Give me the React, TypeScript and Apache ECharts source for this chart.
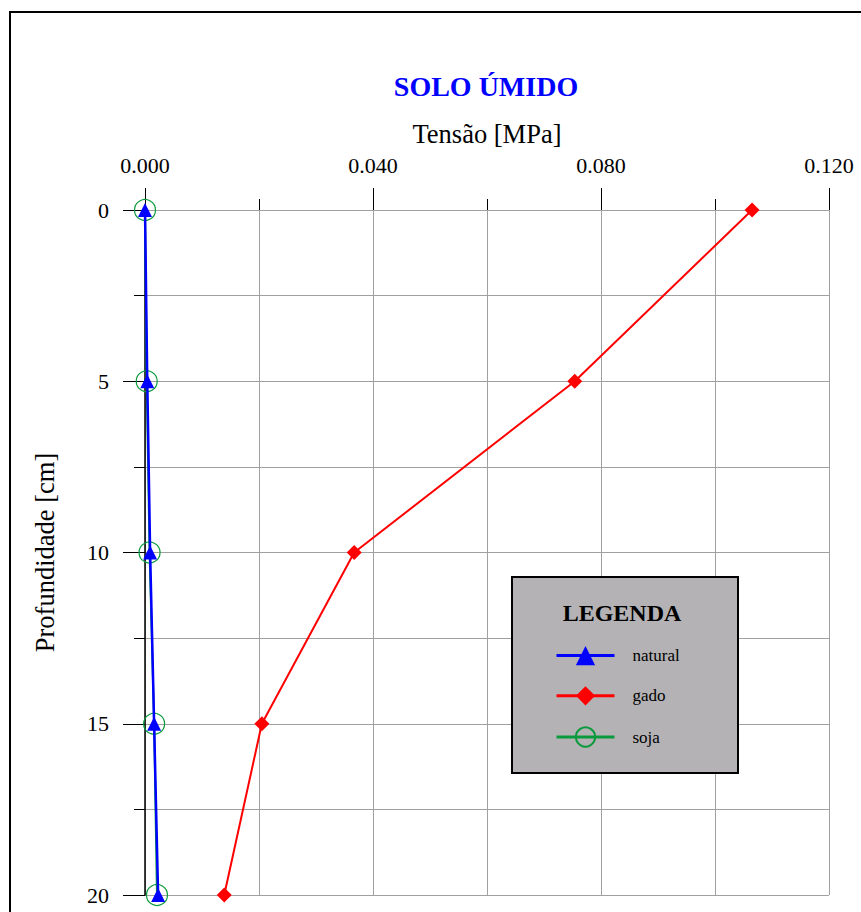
import React, { useEffect, useRef } from "react";
import * as echarts from "echarts";

const depths = [0, 5, 10, 15, 20];
const natural = [0.0, 0.0004, 0.0009, 0.0016, 0.0023];
const gado = [0.1065, 0.0754, 0.0367, 0.0205, 0.0139];
const soja = [0.0, 0.0003, 0.0008, 0.0016, 0.0021];
const xTicks = { min: 0, max: 0.12, interval: 0.04 };
const yTicks = { min: 0, max: 20, interval: 5 };

const FONT = "Liberation Serif";
const GRID = "#a0a0a0";

export default function App() {
  const ref = useRef<HTMLDivElement>(null);
  useEffect(() => {
    if (!ref.current) return;
    const chart = echarts.init(ref.current, undefined, { renderer: "svg" });
    const pairs = (xs: number[]) => xs.map((x, i) => [x, depths[i]]);
    chart.setOption({
      animation: false,
      backgroundColor: "#fff",
      textStyle: { fontFamily: FONT },
      grid: { left: 145, top: 210, right: 32, bottom: 17 },
      xAxis: {
        type: "value",
        position: "top",
        min: xTicks.min,
        max: xTicks.max,
        interval: xTicks.interval,
        name: "Tensão [MPa]",
        nameLocation: "middle",
        nameGap: 63,
        nameTextStyle: { fontSize: 26.5, color: "#000", fontFamily: FONT },
        axisLine: { show: true, lineStyle: { color: GRID, width: 1 } },
        axisTick: { show: true, length: 22, lineStyle: { color: "#000", width: 1 } },
        minorTick: { show: true, splitNumber: 2, length: 11, lineStyle: { color: "#000", width: 1 } },
        splitLine: { show: true, lineStyle: { color: GRID, width: 1 } },
        minorSplitLine: { show: true, lineStyle: { color: GRID, width: 1 } },
        axisLabel: {
          formatter: (v: number) => v.toFixed(3),
          margin: 34,
          fontSize: 22,
          color: "#000",
          fontFamily: FONT,
        },
      },
      yAxis: {
        type: "value",
        inverse: true,
        min: yTicks.min,
        max: yTicks.max,
        interval: yTicks.interval,
        name: "Profundidade [cm]",
        nameLocation: "middle",
        nameGap: 87,
        nameTextStyle: { fontSize: 26.5, color: "#000", fontFamily: FONT },
        axisLine: { show: true, lineStyle: { color: "#000", width: 1.5 } },
        axisTick: { show: true, length: 22, lineStyle: { color: "#000", width: 1 } },
        minorTick: { show: true, splitNumber: 2, length: 11, lineStyle: { color: "#000", width: 1 } },
        splitLine: { show: true, lineStyle: { color: GRID, width: 1 } },
        minorSplitLine: { show: true, lineStyle: { color: GRID, width: 1 } },
        axisLabel: { margin: 36, fontSize: 22, color: "#000", fontFamily: FONT },
      },
      legend: {
        data: ["natural", "gado", "soja"],
        orient: "vertical",
        left: 550,
        top: 641,
        z: 10,
        itemWidth: 58,
        itemHeight: 24,
        itemGap: 21,
        lineStyle: { width: 3 },
        textStyle: { fontSize: 17, color: "#000", fontFamily: FONT, padding: [0, 0, 0, 13] },
        selectedMode: false,
      },
      graphic: [
        {
          type: "rect",
          z: -1,
          silent: true,
          shape: { x: 10, y: 12, width: 1000, height: 1000 },
          style: { fill: "none", stroke: "#000", lineWidth: 2 },
        },
        {
          type: "rect",
          z: 5,
          silent: true,
          shape: { x: 512, y: 577, width: 226, height: 196 },
          style: { fill: "#b4b2b4", stroke: "#000", lineWidth: 2 },
        },
        {
          type: "text",
          z: 6,
          x: 622,
          y: 613,
          style: {
            text: "LEGENDA",
            font: `bold 24px ${FONT}`,
            fill: "#000",
            align: "center",
            verticalAlign: "middle",
          },
        },
        {
          type: "text",
          x: 486,
          y: 86,
          style: {
            text: "SOLO ÚMIDO",
            font: `bold 28px ${FONT}`,
            fill: "#0000ff",
            align: "center",
            verticalAlign: "middle",
          },
        },
      ],
      series: [
        {
          name: "soja",
          type: "line",
          data: pairs(soja),
          symbol: "circle",
          symbolSize: 21,
          lineStyle: { color: "#0a9a3c", width: 2 },
          itemStyle: { color: "transparent", borderColor: "#0a9a3c", borderWidth: 1.2 },
          z: 2,
        },
        {
          name: "natural",
          type: "line",
          data: pairs(natural),
          symbol: "triangle",
          symbolSize: 14,
          lineStyle: { color: "#0000ff", width: 2.5 },
          itemStyle: { color: "#0000ff" },
          z: 3,
        },
        {
          name: "gado",
          type: "line",
          data: pairs(gado),
          symbol: "diamond",
          symbolSize: 15,
          lineStyle: { color: "#ff0000", width: 2 },
          itemStyle: { color: "#ff0000" },
          z: 3,
        },
      ],
    });
    return () => chart.dispose();
  }, []);
  return (
    <div
      ref={ref}
      style={{ position: "absolute", left: 0, top: 0, width: 861, height: 912 }}
    />
  );
}
